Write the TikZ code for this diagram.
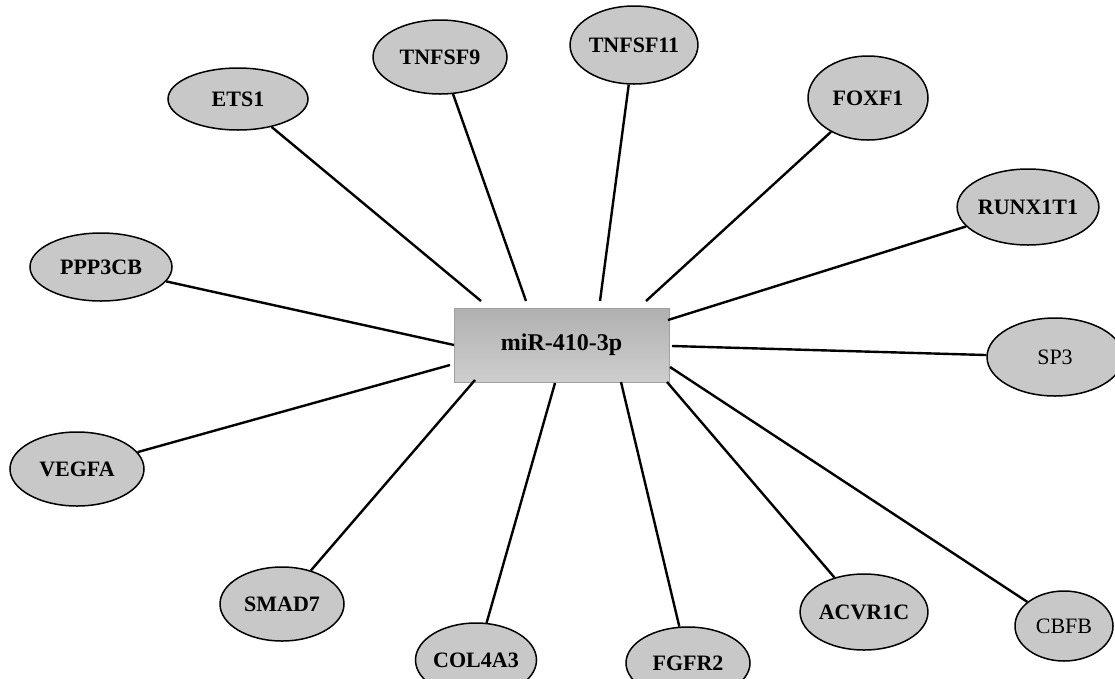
\documentclass[tikz,border=0pt]{standalone}
\usepackage{fontspec}
\setmainfont{Liberation Serif}
\usetikzlibrary{shapes.geometric}
\definecolor{ellfill}{RGB}{200,200,200}
\definecolor{recttop}{RGB}{176,176,176}
\definecolor{rectbot}{RGB}{206,206,206}
\definecolor{rectline}{RGB}{160,160,160}
\tikzset{
  gene/.style={ellipse, draw=black, line width=1.5pt, fill=ellfill, inner sep=0pt,
    font=\fontsize{22}{25}\selectfont\bfseries},
  genereg/.style={gene, font=\fontsize{22}{25}\selectfont},
  hub/.style={rectangle, draw=rectline, line width=1pt, top color=recttop, bottom color=rectbot,
    minimum width=215pt, minimum height=74pt, inner sep=0pt,
    font=\fontsize{24}{28}\selectfont\bfseries},
  link/.style={draw=black, line width=2.4pt}
}
\begin{document}
\begin{tikzpicture}[x=1pt,y=-1pt]
\useasboundingbox (0,0) rectangle (1115,678);
\clip (0,0) rectangle (1115,678);
\fill[white] (0,0) rectangle (1115,678);
\node[hub] (mir) at (561.5,345) {miR-410-3p};
\node[gene, minimum width=140pt, minimum height=62pt] (ets) at (238,99) {ETS1};
\node[gene, minimum width=134pt, minimum height=74pt] (tnf9) at (440,57) {TNFSF9};
\node[gene, minimum width=124pt, minimum height=78pt] (tnf11) at (634,45) {TNFSF11};
\node[gene, minimum width=120pt, minimum height=84pt] (foxf) at (868,98) {FOXF1};
\node[gene, minimum width=132pt, minimum height=76pt] (runx) at (1028,207) {RUNX1T1};
\node[genereg, minimum width=136pt, minimum height=78pt] (sp3) at (1055,357) {SP3};
\node[genereg, minimum width=98pt, minimum height=70pt] (cbfb) at (1064,626) {CBFB};
\node[gene, minimum width=112pt, minimum height=76pt] (acvr) at (864,612) {ACVR1C};
\node[gene, minimum width=124pt, minimum height=72pt] (fgfr) at (688,663) {FGFR2};
\node[gene, minimum width=120pt, minimum height=74pt] (col) at (476,660) {COL4A3};
\node[gene, minimum width=124pt, minimum height=74pt] (smad) at (282,604) {SMAD7};
\node[gene, minimum width=134pt, minimum height=74pt] (vegfa) at (77,469) {VEGFA};
\node[gene, minimum width=142pt, minimum height=68pt] (ppp) at (101,267) {PPP3CB};
\coordinate (e1) at (481,301);
\coordinate (e2) at (526,301);
\coordinate (e3) at (600,301);
\coordinate (e4) at (646,301);
\coordinate (e5) at (668,320);
\coordinate (e6) at (672,346);
\coordinate (e7) at (670,367);
\coordinate (e8) at (667,382);
\coordinate (e9) at (621,382);
\coordinate (e10) at (555,383);
\coordinate (e11) at (475,380);
\coordinate (e12) at (450,365);
\coordinate (e13) at (454,345);
\draw[link] (ets) -- (e1);
\draw[link] (tnf9) -- (e2);
\draw[link] (tnf11) -- (e3);
\draw[link] (foxf) -- (e4);
\draw[link] (runx) -- (e5);
\draw[link] (sp3) -- (e6);
\draw[link] (cbfb) -- (e7);
\draw[link] (acvr) -- (e8);
\draw[link] (fgfr) -- (e9);
\draw[link] (col) -- (e10);
\draw[link] (smad) -- (e11);
\draw[link] (vegfa) -- (e12);
\draw[link] (ppp) -- (e13);
\end{tikzpicture}
\end{document}
